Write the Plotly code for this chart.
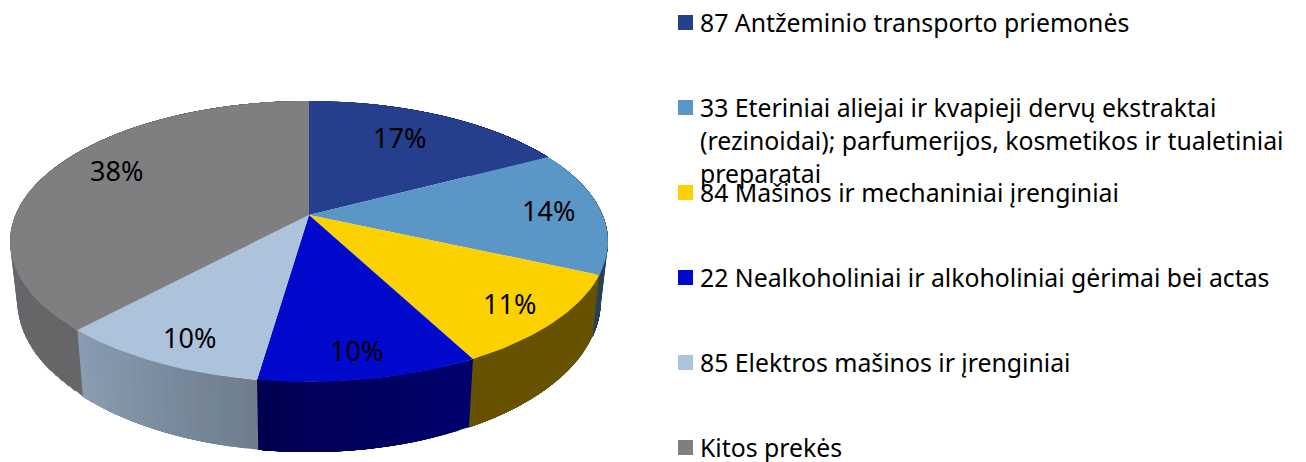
import math
import plotly.graph_objects as go

categories = [
    "87 Antžeminio transporto priemonės",
    "33 Eteriniai aliejai ir kvapieji dervų ekstraktai<br>(rezinoidai); parfumerijos, kosmetikos ir tualetiniai<br>preparatai",
    "84 Mašinos ir mechaniniai įrenginiai",
    "22 Nealkoholiniai ir alkoholiniai gėrimai bei actas",
    "85 Elektros mašinos ir įrenginiai",
    "Kitos prekės",
]
shares = [17.3, 14.4, 10.6, 10.0, 9.6, 38.1]

top_colors = ["#253F8C", "#5A96C6", "#FBD200", "#0009CC", "#ADC3DB", "#7F7F82"]
side_left = ["#1A2C60", "#2A4A68", "#665200", "#00006E", "#8A9DB2", "#6E6E72"]
side_right = ["#1A2C60", "#264058", "#665200", "#000050", "#6D7D8C", "#666669"]

FONT = "Noto Sans"
CX, CY, A, B, K = 309.0, 215.0, 293.6, 135.5, 0.1886
LOW_SX, LOW_SY, LOW_Y = 0.976, 1.076, 272.4
LABEL_R = 0.75
LABEL_NUDGE = [(-11, 0), (20, -1), (23, 11), (4, 19), (-11, 17), (2, -9)]
LEG_X, LEG_SQ_X, LEG_TOP, LEG_STEP, LINE_STEP = 698, 685.5, 22.5, 85, 33


def top(deg, r=1.0):
    t = math.radians(deg)
    u, v = r * math.sin(t), -r * math.cos(t)
    d = 1 - K * v
    return CX + A * u / d, CY + B * v / d


def low(deg):
    x, y = top(deg)
    return CX + LOW_SX * (x - CX), LOW_Y + LOW_SY * (y - CY)


def mix(c1, c2, f):
    a = [int(c1[i:i + 2], 16) for i in (1, 3, 5)]
    b = [int(c2[i:i + 2], 16) for i in (1, 3, 5)]
    return "#%02X%02X%02X" % tuple(round(p + (q - p) * f) for p, q in zip(a, b))


fig = go.Figure()


def poly(xs, ys, color):
    fig.add_trace(go.Scatter(x=xs, y=ys, mode="lines", fill="toself", fillcolor=color,
                             line=dict(width=0), hoverinfo="skip", showlegend=False))


total = sum(shares)
edges = [0.0]
for s in shares:
    edges.append(edges[-1] + s / total * 360)

# Walls: each strip runs to the end of its slice and the next one paints over it,
# so no seams show between the steps of the gradient.
for i, s in enumerate(shares):
    n = max(2, int((edges[i + 1] - edges[i]) / 2))
    step = (edges[i + 1] - edges[i]) / n
    for j in range(n):
        t0 = edges[i] + step * j
        span = [t0 + (edges[i + 1] - t0) * q / 12 for q in range(13)]
        up = [top(t) for t in span]
        dn = [low(t) for t in reversed(span)]
        f = (j + 0.5) / n
        if 180 < (edges[i] + edges[i + 1]) / 2 < 360:
            f = 1 - f
        ring = up + dn + up[:1]
        poly([p[0] for p in ring], [p[1] for p in ring], mix(side_left[i], side_right[i], f))

# Top faces
for i, s in enumerate(shares):
    n = max(6, int((edges[i + 1] - edges[i]) / 1))
    pts = [top(edges[i] + (edges[i + 1] - edges[i]) * j / n) for j in range(n + 1)]
    poly([CX] + [p[0] for p in pts] + [CX], [CY] + [p[1] for p in pts] + [CY], top_colors[i])

annotations = []
for i, s in enumerate(shares):
    x, y = top((edges[i] + edges[i + 1]) / 2, LABEL_R)
    annotations.append(dict(x=x + LABEL_NUDGE[i][0], y=y + LABEL_NUDGE[i][1], text=f"{round(s)}%",
                            showarrow=False, xanchor="center", yanchor="middle",
                            font=dict(family=FONT, size=27, color="#000000")))

# Legend, built by hand so the overlap of the wrapped entry is kept
for i, name in enumerate(categories):
    y0 = LEG_TOP + i * LEG_STEP
    fig.add_trace(go.Scatter(x=[LEG_SQ_X], y=[y0], mode="markers", hoverinfo="skip", showlegend=False,
                             marker=dict(symbol="square", size=15, color=top_colors[i], line=dict(width=0))))
    for ln, line in enumerate(name.split("<br>")):
        annotations.append(dict(x=LEG_X, y=y0 - 1 + ln * LINE_STEP, text=line, showarrow=False,
                                xanchor="left", yanchor="middle",
                                font=dict(family=FONT, size=24.8, color="#000000")))

fig.update_layout(
    width=1306, height=462, margin=dict(l=0, r=0, t=0, b=0),
    paper_bgcolor="#FFFFFF", plot_bgcolor="#FFFFFF", showlegend=False,
    xaxis=dict(range=[0, 1306], visible=False, fixedrange=True),
    yaxis=dict(range=[462, 0], visible=False, fixedrange=True),
    annotations=annotations,
)
fig.write_html("out.html", post_script="document.body.style.margin='0';document.body.style.overflow='hidden';",
               config={"displayModeBar": False})
